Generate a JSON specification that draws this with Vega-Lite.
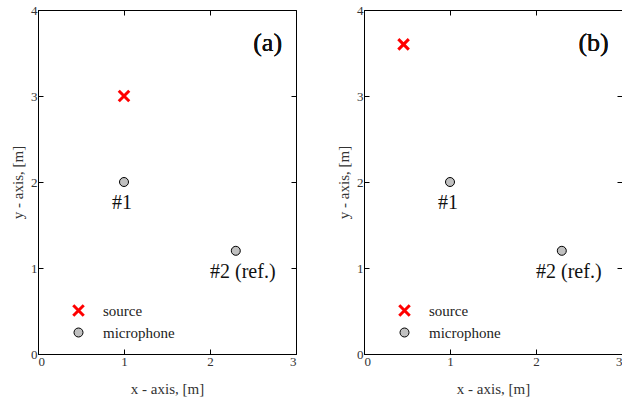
{
  "$schema": "https://vega.github.io/schema/vega-lite/v6.json",
  "padding": {"left": 10, "top": 3, "right": 0, "bottom": 0},
  "spacing": 39,
  "config": {
    "font": "Liberation Serif",
    "view": {"stroke": "#000000", "strokeWidth": 1},
    "axis": {
      "labelFont": "Liberation Serif", "labelFontSize": 13, "labelColor": "#333333",
      "titleFont": "Liberation Serif", "titleFontSize": 15, "titleFontWeight": "normal", "titleColor": "#333333",
      "domainColor": "#000000", "tickColor": "#000000", "tickSize": -5, "grid": false, "labelPadding": 6
    },
    "legend": {"labelFont": "Liberation Serif", "labelFontSize": 15, "labelColor": "#222222"},
    "text": {"font": "Liberation Serif", "fontWeight": "normal"}
  },
  "resolve": {
    "scale": {"shape": "independent", "stroke": "independent", "fill": "independent", "size": "independent", "strokeWidth": "independent"},
    "legend": {"shape": "independent", "stroke": "independent", "fill": "independent", "size": "independent", "strokeWidth": "independent"}
  },
  "hconcat": [
    {
      "width": 258, "height": 344,
      "data": {"values": [
        {"kind": "source", "x": 1.0, "y": 3.0, "label": ""},
        {"kind": "microphone", "x": 1.0, "y": 2.0, "label": "#1"},
        {"kind": "microphone", "x": 2.3, "y": 1.2, "label": "#2 (ref.)"}
      ]},
      "layer": [
        {
          "mark": {"type": "point", "opacity": 1},
          "encoding": {
            "x": {"field": "x", "type": "quantitative", "scale": {"domain": [0, 3], "nice": false}, "axis": {"values": [0, 1, 2, 3], "title": "x - axis, [m]", "titlePadding": 13}},
            "y": {"field": "y", "type": "quantitative", "scale": {"domain": [0, 4], "nice": false}, "axis": {"values": [0, 1, 2, 3, 4], "title": "y - axis, [m]", "titlePadding": 5}},
            "shape": {"field": "kind", "type": "nominal", "scale": {"domain": ["source", "microphone"], "range": ["M-1,-1L1,1M-1,1L1,-1", "circle"]}, "legend": {"orient": "none", "legendX": 33, "legendY": 293, "title": null, "padding": 0, "rowPadding": 3, "labelOffset": 17}},
            "stroke": {"field": "kind", "type": "nominal", "scale": {"domain": ["source", "microphone"], "range": ["#ff0000", "#000000"]}},
            "fill": {"field": "kind", "type": "nominal", "scale": {"domain": ["source", "microphone"], "range": ["transparent", "#c0c0c0"]}},
            "size": {"field": "kind", "type": "nominal", "scale": {"domain": ["source", "microphone"], "range": [110, 81]}},
            "strokeWidth": {"field": "kind", "type": "nominal", "scale": {"domain": ["source", "microphone"], "range": [3, 1]}}
          }
        },
        {
          "transform": [{"filter": "datum.label == '#1'"}],
          "mark": {"type": "text", "fontSize": 20, "baseline": "middle", "dy": 21, "dx": -2, "color": "#111111"},
          "encoding": {"x": {"field": "x", "type": "quantitative", "axis": null}, "y": {"field": "y", "type": "quantitative", "axis": null}, "text": {"field": "label"}}
        },
        {
          "transform": [{"filter": "datum.label == '#2 (ref.)'"}],
          "mark": {"type": "text", "fontSize": 20, "baseline": "middle", "dy": 21, "dx": 7, "color": "#111111"},
          "encoding": {"x": {"field": "x", "type": "quantitative", "axis": null}, "y": {"field": "y", "type": "quantitative", "axis": null}, "text": {"field": "label"}}
        },
        {
          "mark": {"type": "text", "fontSize": 26, "baseline": "middle", "color": "#111111"},
          "encoding": {"x": {"datum": 2.67, "axis": null}, "y": {"datum": 3.62, "axis": null}, "text": {"value": "(a)"}}
        },
        {
          "mark": {"type": "point", "opacity": 0},
          "encoding": {
            "x": {"field": "x", "type": "quantitative", "axis": {"orient": "top", "values": [0, 1, 2, 3], "labels": false, "title": null, "domain": false}},
            "y": {"field": "y", "type": "quantitative", "axis": {"orient": "right", "values": [0, 1, 2, 3, 4], "labels": false, "title": null, "domain": false}}
          }
        }
      ],
      "resolve": {"axis": {"x": "independent", "y": "independent"}}
    },
    {
      "width": 258, "height": 344,
      "data": {"values": [
        {"kind": "source", "x": 0.46, "y": 3.6, "label": ""},
        {"kind": "microphone", "x": 1.0, "y": 2.0, "label": "#1"},
        {"kind": "microphone", "x": 2.3, "y": 1.2, "label": "#2 (ref.)"}
      ]},
      "layer": [
        {
          "mark": {"type": "point", "opacity": 1},
          "encoding": {
            "x": {"field": "x", "type": "quantitative", "scale": {"domain": [0, 3], "nice": false}, "axis": {"values": [0, 1, 2, 3], "title": "x - axis, [m]", "titlePadding": 13}},
            "y": {"field": "y", "type": "quantitative", "scale": {"domain": [0, 4], "nice": false}, "axis": {"values": [0, 1, 2, 3, 4], "title": "y - axis, [m]", "titlePadding": 5}},
            "shape": {"field": "kind", "type": "nominal", "scale": {"domain": ["source", "microphone"], "range": ["M-1,-1L1,1M-1,1L1,-1", "circle"]}, "legend": {"orient": "none", "legendX": 33, "legendY": 293, "title": null, "padding": 0, "rowPadding": 3, "labelOffset": 17}},
            "stroke": {"field": "kind", "type": "nominal", "scale": {"domain": ["source", "microphone"], "range": ["#ff0000", "#000000"]}},
            "fill": {"field": "kind", "type": "nominal", "scale": {"domain": ["source", "microphone"], "range": ["transparent", "#c0c0c0"]}},
            "size": {"field": "kind", "type": "nominal", "scale": {"domain": ["source", "microphone"], "range": [110, 81]}},
            "strokeWidth": {"field": "kind", "type": "nominal", "scale": {"domain": ["source", "microphone"], "range": [3, 1]}}
          }
        },
        {
          "transform": [{"filter": "datum.label == '#1'"}],
          "mark": {"type": "text", "fontSize": 20, "baseline": "middle", "dy": 21, "dx": -2, "color": "#111111"},
          "encoding": {"x": {"field": "x", "type": "quantitative", "axis": null}, "y": {"field": "y", "type": "quantitative", "axis": null}, "text": {"field": "label"}}
        },
        {
          "transform": [{"filter": "datum.label == '#2 (ref.)'"}],
          "mark": {"type": "text", "fontSize": 20, "baseline": "middle", "dy": 21, "dx": 7, "color": "#111111"},
          "encoding": {"x": {"field": "x", "type": "quantitative", "axis": null}, "y": {"field": "y", "type": "quantitative", "axis": null}, "text": {"field": "label"}}
        },
        {
          "mark": {"type": "text", "fontSize": 26, "baseline": "middle", "color": "#111111"},
          "encoding": {"x": {"datum": 2.67, "axis": null}, "y": {"datum": 3.62, "axis": null}, "text": {"value": "(b)"}}
        },
        {
          "mark": {"type": "point", "opacity": 0},
          "encoding": {
            "x": {"field": "x", "type": "quantitative", "axis": {"orient": "top", "values": [0, 1, 2, 3], "labels": false, "title": null, "domain": false}},
            "y": {"field": "y", "type": "quantitative", "axis": {"orient": "right", "values": [0, 1, 2, 3, 4], "labels": false, "title": null, "domain": false}}
          }
        }
      ],
      "resolve": {"axis": {"x": "independent", "y": "independent"}}
    }
  ]
}
